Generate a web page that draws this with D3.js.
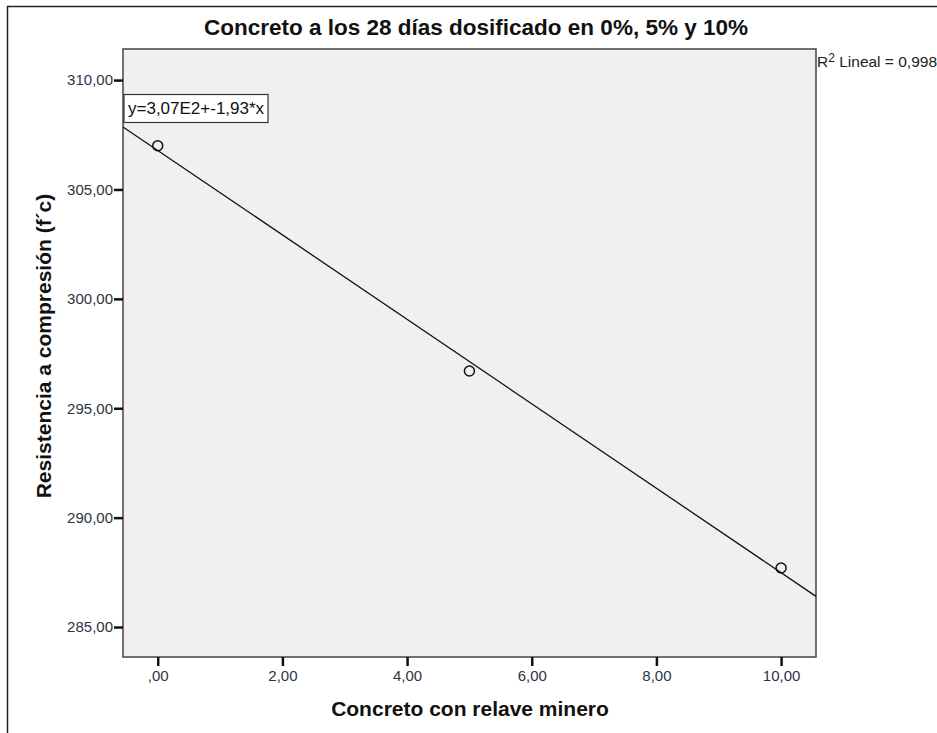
<!DOCTYPE html>
<html>
<head>
<meta charset="utf-8">
<script src="https://cdn.jsdelivr.net/npm/d3@7"></script>
<style>
  body { margin: 0; background: #fff; }
  text { font-family: "Liberation Sans", Arial, sans-serif; }
</style>
</head>
<body>
<div id="canvas"></div>
<script>
"use strict"

// data
let dosage = [0, 5, 10]
let strength = [307.0, 296.7, 287.7]
let yTicks = [285, 290, 295, 300, 305, 310]
let xTicks = [0, 2, 4, 6, 8, 10]

let chartTitle = "Concreto a los 28 días dosificado en 0%, 5% y 10%"
let xTitle = "Concreto con relave minero"
let yTitle = "Resistencia a compresión (f´c)"

let drawing = d3.select("#canvas")
    .append("svg")
    .attr("width", 937)
    .attr("height", 733)

// outer frame, only top and left edges show
let border = drawing.append("rect")
    .attr("x", 7.5)
    .attr("y", 6.5)
    .attr("width", 1000)
    .attr("height", 1000)
    .attr("fill", "none")
    .attr("stroke", "#222")
    .attr("stroke-width", 1.5)

let plotLeft = 123, plotTop = 49, plotRight = 816, plotBottom = 657

let x = d3.scaleLinear().domain([-0.557, 10.56]).range([plotLeft, plotRight])
let y = d3.scaleLinear().domain([283.63, 311.42]).range([plotBottom, plotTop])

let comma = v => {
    let s = d3.format(".2f")(v).replace(".", ",")
    return s.startsWith("0,") ? s.slice(1) : s
}

let plotBox = drawing.append("rect")
    .attr("x", plotLeft)
    .attr("y", plotTop)
    .attr("width", plotRight - plotLeft)
    .attr("height", plotBottom - plotTop)
    .attr("fill", "#f0f0f0")
    .attr("stroke", "#444")
    .attr("stroke-width", 1.5)

// axes
let yAxis = drawing.append("g")
    .attr("transform", `translate(${plotLeft},0)`)
    .call(d3.axisLeft(y).tickValues(yTicks).tickFormat(comma).tickSize(9).tickPadding(1))
let xAxis = drawing.append("g")
    .attr("transform", `translate(0,${plotBottom})`)
    .call(d3.axisBottom(x).tickValues(xTicks).tickFormat(comma).tickSize(9).tickPadding(4))

drawing.selectAll(".domain").remove()
drawing.selectAll(".tick line").attr("stroke", "#111").attr("stroke-width", 2.5)
drawing.selectAll(".tick text")
    .attr("fill", "#2e3344")
    .style("font-size", "15px")
    .style("font-family", "'Liberation Sans', Arial, sans-serif")

// least squares fit
let mx = d3.mean(dosage), my = d3.mean(strength)
let slope = d3.sum(dosage, (d, i) => (d - mx) * (strength[i] - my)) / d3.sum(dosage, d => (d - mx) * (d - mx))
let intercept = my - slope * mx
let xs = x.domain()

let fitLine = drawing.append("line")
    .attr("x1", x(xs[0]))
    .attr("y1", y(intercept + slope * xs[0]))
    .attr("x2", x(xs[1]))
    .attr("y2", y(intercept + slope * xs[1]))
    .attr("stroke", "#111")
    .attr("stroke-width", 1.3)

let points = drawing.selectAll(".pt")
    .data(dosage)
    .enter()
    .append("circle")
    .attr("cx", d => x(d))
    .attr("cy", (d, i) => y(strength[i]))
    .attr("r", 5)
    .attr("fill", "none")
    .attr("stroke", "#111")
    .attr("stroke-width", 1.5)

// equation box
let eqBox = drawing.append("rect")
    .attr("x", 124)
    .attr("y", 94.5)
    .attr("width", 144)
    .attr("height", 28)
    .attr("fill", "#fff")
    .attr("stroke", "#333")
    .attr("stroke-width", 1.2)
let eqText = drawing.append("text")
    .attr("x", 128)
    .attr("y", 114)
    .attr("font-size", "17px")
    .attr("fill", "#111")
    .text("y=3,07E2+-1,93*x")

let r2Text = drawing.append("text")
    .attr("x", 817)
    .attr("y", 67)
    .attr("font-size", "15.5px")
    .attr("fill", "#222")
r2Text.append("tspan").text("R")
r2Text.append("tspan").attr("dy", -5).attr("font-size", "12px").text("2")
r2Text.append("tspan").attr("dy", 5).text(" Lineal = 0,998")

// titles
let titleText = drawing.append("text")
    .attr("x", 476)
    .attr("y", 35)
    .attr("text-anchor", "middle")
    .attr("font-size", "22.5px")
    .attr("font-weight", "bold")
    .attr("fill", "#111")
    .text(chartTitle)

let xLabel = drawing.append("text")
    .attr("x", 470)
    .attr("y", 716)
    .attr("text-anchor", "middle")
    .attr("font-size", "21px")
    .attr("font-weight", "bold")
    .attr("fill", "#111")
    .text(xTitle)

let yLabel = drawing.append("text")
    .attr("transform", "translate(51,346) rotate(-90)")
    .attr("text-anchor", "middle")
    .attr("font-size", "21px")
    .attr("font-weight", "bold")
    .attr("fill", "#111")
    .text(yTitle)
</script>
</body>
</html>
